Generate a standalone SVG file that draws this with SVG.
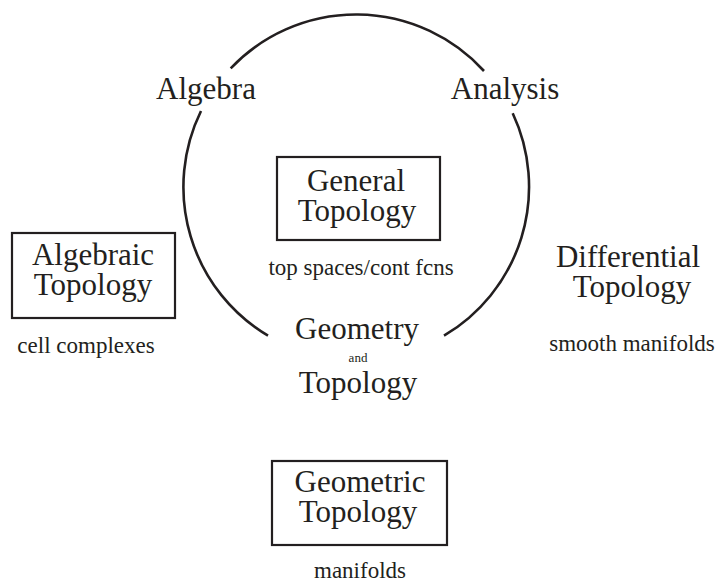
<svg xmlns="http://www.w3.org/2000/svg" width="721" height="583" viewBox="0 0 721 583">
<style>
text{font-family:"Liberation Serif","Times New Roman",serif;fill:#231f20;text-anchor:middle}
.big{font-size:31px}
.small{font-size:23px}
.tiny{font-size:13px}
.box{fill:none;stroke:#231f20;stroke-width:2.2}
.arc{fill:none;stroke:#231f20;stroke-width:2.6}
</style>
<rect width="721" height="583" fill="#fff"/>
<g id="connectors">
<path class="arc" d="M230.7,68.3 A173,173 0 0 1 484,71"/>
<path class="arc" d="M201,111 A173,173 0 0 0 268,335.7"/>
<path class="arc" d="M512.7,113.3 A173,173 0 0 1 444,335.7"/>
</g>
<g id="algebra"><text class="big" x="206" y="99">Algebra</text></g>
<g id="analysis"><text class="big" x="505" y="99">Analysis</text></g>
<g id="general-topology">
<rect class="box" x="277" y="157" width="163" height="83"/>
<text class="big"><tspan x="356" y="191">General</tspan><tspan x="357" y="221">Topology</tspan></text>
<text class="small" x="361" y="275">top spaces/cont fcns</text>
</g>
<g id="algebraic-topology">
<rect class="box" x="12" y="233" width="163" height="85"/>
<text class="big"><tspan x="93" y="265">Algebraic</tspan><tspan x="93" y="295">Topology</tspan></text>
<text class="small" x="86" y="353">cell complexes</text>
</g>
<g id="differential-topology">
<text class="big"><tspan x="628" y="267">Differential</tspan><tspan x="632" y="297">Topology</tspan></text>
<text class="small" x="632" y="351">smooth manifolds</text>
</g>
<g id="geometry-and-topology">
<text class="big" x="357" y="339">Geometry</text>
<text class="tiny" x="358" y="362">and</text>
<text class="big" x="358" y="393">Topology</text>
</g>
<g id="geometric-topology">
<rect class="box" x="272" y="461" width="175" height="84"/>
<text class="big"><tspan x="360" y="492">Geometric</tspan><tspan x="358" y="522">Topology</tspan></text>
<text class="small" x="360" y="578">manifolds</text>
</g>
</svg>
